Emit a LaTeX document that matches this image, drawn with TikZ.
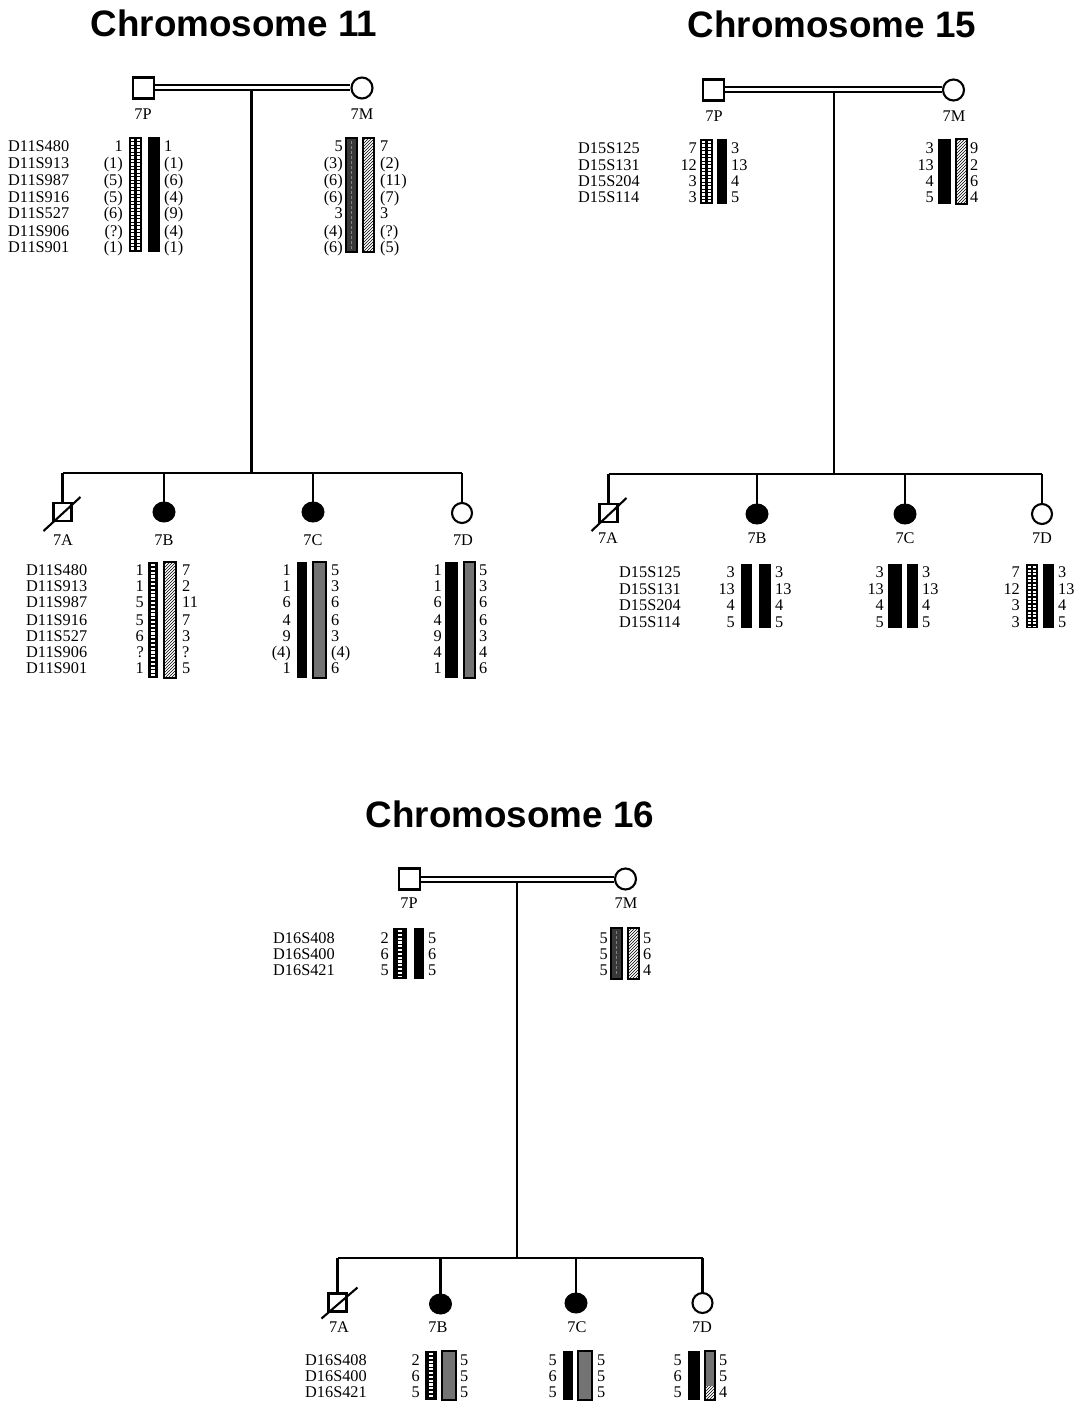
\documentclass[tikz,border=0pt]{standalone}
\usepackage{fontspec}
\setmainfont{Liberation Serif}
\newfontfamily\headfont{Liberation Sans}
\usetikzlibrary{patterns,shapes.geometric}

% haplotype bars: #1 left x, #2 right x, #3 top y, #4 bottom y
\newcommand{\barSolid}[4]{\fill (#1,#3) rectangle (#2,#4);}
\newcommand{\barGrey}[4]{\draw[barline, fill=black!55] (#1,#3) rectangle (#2,#4);}
\newcommand{\barDark}[4]{\draw[barline, fill=black!78] (#1,#3) rectangle (#2,#4);
  \draw[black!50, line width=1pt, dash pattern=on 3pt off 2pt] ({(#1+#2)/2},{#3+3}) -- ({(#1+#2)/2},{#4-3});}
\newcommand{\barHatch}[4]{\draw[barline, pattern=north east lines] (#1,#3) rectangle (#2,#4);}
\newcommand{\barGrid}[4]{\fill (#1,#3) rectangle (#2,#4);
  \draw[white, line width=3.1pt, dash pattern=on 2.4pt off 1.1pt] ({#1+3.9},{#3+2}) -- ({#1+3.9},{#4-2});
  \draw[white, line width=3.1pt, dash pattern=on 2.4pt off 1.1pt] ({#2-3.9},{#3+2}) -- ({#2-3.9},{#4-2});}
\newcommand{\barDots}[4]{\fill (#1,#3) rectangle (#2,#4);
  \draw[white, line width=3.4pt, dash pattern=on 2.2pt off 1.6pt] ({(#1+#2)/2},{#3+2}) -- ({(#1+#2)/2},{#4-2});}

% a column of texts: #1 name prefix, #2 x, #3 style, #4 list of y/text
\newcommand{\hapcol}[4]{\foreach \yy/\vv in {#4} {\node[#3] (#1-\yy) at (#2,\yy) {\vv};}}

\tikzset{
  lbl/.style={font=\fontsize{16.3}{18}\selectfont, inner sep=0pt},
  mk/.style={lbl, anchor=base west, yshift=-5.3pt},
  alL/.style={lbl, anchor=base east, yshift=-5.3pt},
  alR/.style={lbl, anchor=base west, yshift=-5.3pt},
  title/.style={font=\headfont\bfseries\fontsize{36.8}{42}\selectfont, anchor=base, inner sep=0pt},
  barline/.style={draw=black, line width=1.4pt},
  pline/.style={line width=2.1pt},
  marriage/.style={double, double distance=3pt, line width=2pt},
  pmale/.style={draw, rectangle, line width=2.1pt, minimum size=21pt, inner sep=0pt},
  pfemale/.style={draw, circle, line width=2.1pt, minimum size=21pt, inner sep=0pt},
  cmale/.style={draw, rectangle, line width=2.1pt, minimum size=18pt, inner sep=0pt},
  caff/.style={draw, fill=black, ellipse, line width=1pt, minimum width=22pt, minimum height=20pt, inner sep=0pt},
  cfemale/.style={draw, circle, line width=2.1pt, minimum size=20pt, inner sep=0pt},
  dead/.style={line width=2.1pt}
}

\begin{document}
\begin{tikzpicture}[x=1pt, y=-1pt]
\useasboundingbox (0,0) rectangle (1089,1404);

%% ---------------- Chromosome 11 ----------------
\node[title] (t11) at (234,37) {Chromosome 11};
\node[pmale] (p11) at (143.5,88) {};
\node[pfemale] (m11) at (362,88) {};
\draw[marriage] (p11.east) -- (m11.west);
\node[lbl] (p11l) at (143,114) {7P};
\node[lbl] (m11l) at (362,114) {7M};
\coordinate (d11) at (251.5,91.5);
\coordinate (s11) at (251.5,473);
\draw[pline] (d11) -- (s11);

\node[cmale] (a11) at (62.5,512) {};
\node[caff] (b11) at (164,512) {};
\node[caff] (c11) at (313,512) {};
\node[cfemale] (e11) at (462,513) {};
\draw[pline] (a11 |- s11) -- (e11 |- s11);
\foreach \k in {a11,b11,c11,e11} \draw[pline] (\k |- s11) -- (\k.north);
\draw[dead] ([shift={(-19,19)}]a11.center) -- ([shift={(18,-15)}]a11.center);
\node[lbl] (a11l) at (63,540) {7A};
\node[lbl] (b11l) at (164,540) {7B};
\node[lbl] (c11l) at (313,540) {7C};
\node[lbl] (e11l) at (463,540) {7D};

% parents
\hapcol{mk11p}{8}{mk}{146/D11S480,163/D11S913,180/D11S987,197/D11S916,213/D11S527,231/D11S906,247/D11S901}
\hapcol{p11a}{123}{alL}{146/1,163/(1),180/(5),197/(5),213/(6),231/(?),247/(1)}
\barGrid{129}{142}{137}{252}
\barSolid{148}{160}{137}{252}
\hapcol{p11b}{164}{alR}{146/1,163/(1),180/(6),197/(4),213/(9),231/(4),247/(1)}
\hapcol{m11a}{343}{alL}{146/5,163/(3),180/(6),197/(6),213/3,231/(4),247/(6)}
\barDark{346}{357}{138}{252}
\barHatch{363}{374}{138}{252}
\hapcol{m11b}{380}{alR}{146/7,163/(2),180/(11),197/(7),213/3,231/(?),247/(5)}

% children
\hapcol{mk11c}{26}{mk}{570/D11S480,586/D11S913,602/D11S987,620/D11S916,636/D11S527,652/D11S906,668/D11S901}
\hapcol{b11a}{144}{alL}{570/1,586/1,602/5,620/5,636/6,652/?,668/1}
\barDots{148}{158}{562}{678}
\barHatch{164}{176}{562}{678}
\hapcol{b11b}{182}{alR}{570/7,586/2,602/11,620/7,636/3,652/?,668/5}
\hapcol{c11a}{291}{alL}{570/1,586/1,602/6,620/4,636/9,652/(4),668/1}
\barSolid{297}{307}{562}{678}
\barGrey{313}{326}{562}{678}
\hapcol{c11b}{331}{alR}{570/5,586/3,602/6,620/6,636/3,652/(4),668/6}
\hapcol{e11a}{442}{alL}{570/1,586/1,602/6,620/4,636/9,652/4,668/1}
\barSolid{445}{458}{562}{678}
\barGrey{464}{475}{562}{678}
\hapcol{e11b}{479}{alR}{570/5,586/3,602/6,620/6,636/3,652/4,668/6}

%% ---------------- Chromosome 15 ----------------
\node[title] (t15) at (832,38) {Chromosome 15};
\node[pmale] (p15) at (713.5,90) {};
\node[pfemale] (m15) at (953.5,90) {};
\draw[marriage] (p15.east) -- (m15.west);
\node[lbl] (p15l) at (714,116) {7P};
\node[lbl] (m15l) at (954,116) {7M};
\coordinate (d15) at (834,93.5);
\coordinate (s15) at (834,474);
\draw[pline] (d15) -- (s15);

\node[cmale] (a15) at (608.5,513) {};
\node[caff] (b15) at (757,514) {};
\node[caff] (c15) at (905,514) {};
\node[cfemale] (e15) at (1042,514) {};
\draw[pline] (a15 |- s15) -- (e15 |- s15);
\foreach \k in {a15,b15,c15,e15} \draw[pline] (\k |- s15) -- (\k.north);
\draw[dead] ([shift={(-17,18)}]a15.center) -- ([shift={(18,-15)}]a15.center);
\node[lbl] (a15l) at (608,538) {7A};
\node[lbl] (b15l) at (757,538) {7B};
\node[lbl] (c15l) at (905,538) {7C};
\node[lbl] (e15l) at (1042,538) {7D};

% parents
\hapcol{mk15p}{578}{mk}{148/D15S125,165/D15S131,181/D15S204,197/D15S114}
\hapcol{p15a}{697}{alL}{148/7,165/12,181/3,197/3}
\barGrid{700}{713}{139}{204}
\barSolid{717}{727}{139}{204}
\hapcol{p15b}{731}{alR}{148/3,165/13,181/4,197/5}
\hapcol{m15a}{934}{alL}{148/3,165/13,181/4,197/5}
\barSolid{938}{951}{139}{204}
\barHatch{956}{967}{139}{204}
\hapcol{m15b}{970}{alR}{148/9,165/2,181/6,197/4}

% children
\hapcol{mk15c}{619}{mk}{572/D15S125,589/D15S131,605/D15S204,622/D15S114}
\hapcol{b15a}{735}{alL}{572/3,589/13,605/4,622/5}
\barSolid{741}{752}{564}{628}
\barSolid{759}{771}{564}{628}
\hapcol{b15b}{775}{alR}{572/3,589/13,605/4,622/5}
\hapcol{c15a}{884}{alL}{572/3,589/13,605/4,622/5}
\barSolid{888}{902}{564}{628}
\barSolid{907}{918}{564}{628}
\hapcol{c15b}{922}{alR}{572/3,589/13,605/4,622/5}
\hapcol{e15a}{1020}{alL}{572/7,589/12,605/3,622/3}
\barGrid{1026}{1038}{564}{628}
\barSolid{1043}{1054}{564}{628}
\hapcol{e15b}{1058}{alR}{572/3,589/13,605/4,622/5}

%% ---------------- Chromosome 16 ----------------
\node[title] (t16) at (510,827) {Chromosome 16};
\node[pmale] (p16) at (409.5,879) {};
\node[pfemale] (m16) at (625.5,879) {};
\draw[marriage] (p16.east) -- (m16.west);
\node[lbl] (p16l) at (409,903) {7P};
\node[lbl] (m16l) at (626,903) {7M};
\coordinate (d16) at (517,882.5);
\coordinate (s16) at (517,1258);
\draw[pline] (d16) -- (s16);

\node[cmale] (a16) at (337.5,1302.5) {};
\node[caff] (b16) at (440.5,1304) {};
\node[caff] (c16) at (576,1303) {};
\node[cfemale] (e16) at (702.5,1303) {};
\draw[pline] (a16 |- s16) -- (e16 |- s16);
\foreach \k in {a16,b16,c16,e16} \draw[pline] (\k |- s16) -- (\k.north);
\draw[dead] ([shift={(-16,16)}]a16.center) -- ([shift={(20,-15)}]a16.center);
\node[lbl] (a16l) at (339,1327) {7A};
\node[lbl] (b16l) at (438,1327) {7B};
\node[lbl] (c16l) at (577,1327) {7C};
\node[lbl] (e16l) at (702,1327) {7D};

% parents
\hapcol{mk16p}{273}{mk}{938/D16S408,954/D16S400,970/D16S421}
\hapcol{p16a}{389}{alL}{938/2,954/6,970/5}
\barDots{393}{407}{928}{979}
\barSolid{414}{424}{928}{979}
\hapcol{p16b}{428}{alR}{938/5,954/6,970/5}
\hapcol{m16a}{608}{alL}{938/5,954/5,970/5}
\barDark{611}{622}{928}{979}
\barHatch{628}{639}{928}{979}
\hapcol{m16b}{643}{alR}{938/5,954/6,970/4}

% children
\hapcol{mk16c}{305}{mk}{1360/D16S408,1376/D16S400,1392/D16S421}
\hapcol{b16a}{420}{alL}{1360/2,1376/6,1392/5}
\barDots{425}{437}{1351}{1400}
\barGrey{442}{456}{1351}{1400}
\hapcol{b16b}{460}{alR}{1360/5,1376/5,1392/5}
\hapcol{c16a}{557}{alL}{1360/5,1376/6,1392/5}
\barSolid{563}{573}{1351}{1400}
\barGrey{578}{592}{1351}{1400}
\hapcol{c16b}{597}{alR}{1360/5,1376/5,1392/5}
\hapcol{e16a}{682}{alL}{1360/5,1376/6,1392/5}
\barSolid{688}{700}{1351}{1400}
\fill[black!55] (705,1351) rectangle (715,1386);
\fill[pattern=north east lines] (705,1386) rectangle (715,1400);
\draw[barline] (705,1351) rectangle (715,1400);
\hapcol{e16b}{719}{alR}{1360/5,1376/5,1392/4}
\end{tikzpicture}
\end{document}
